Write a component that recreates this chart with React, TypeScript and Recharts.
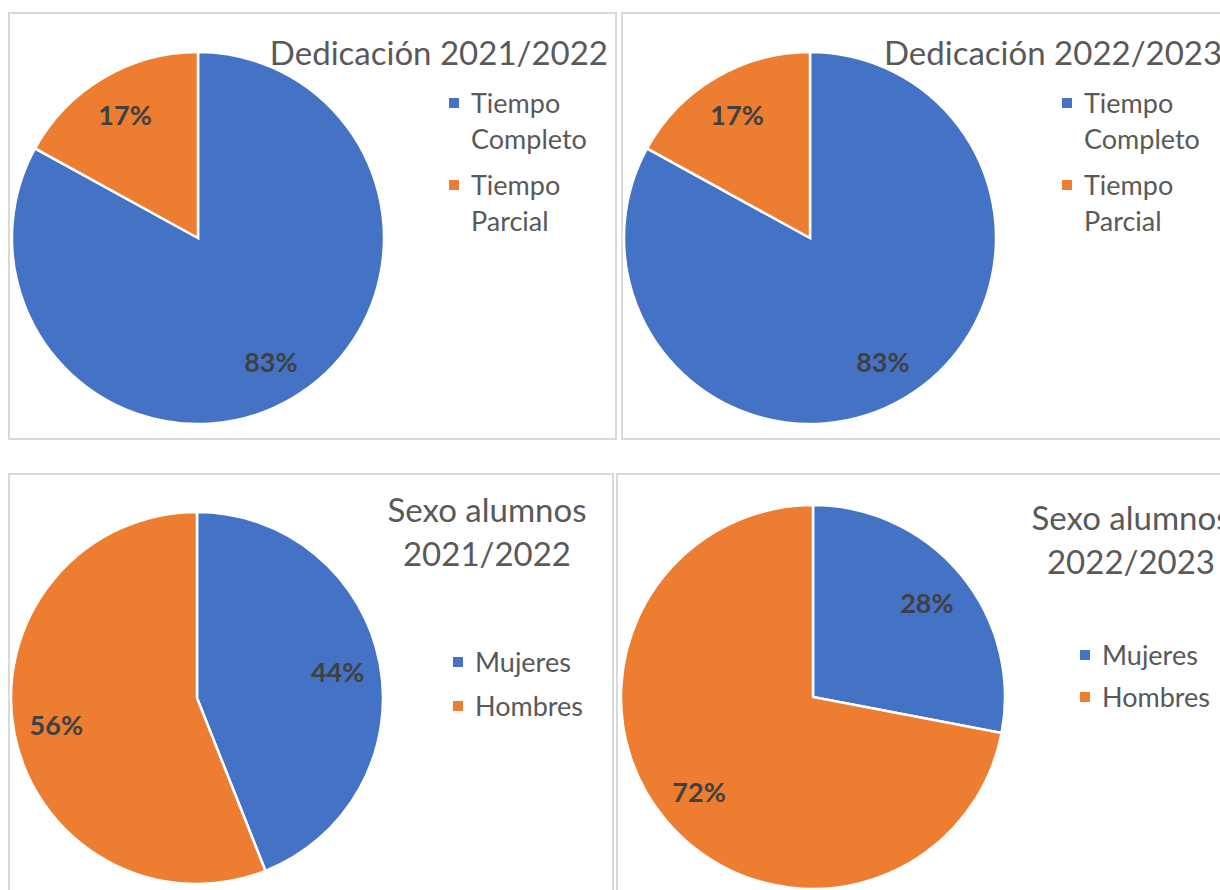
import { Cell, Legend, Pie, PieChart } from "recharts";

const dedicacionNames = ["Tiempo Completo", "Tiempo Parcial"];
const dedicacion2122 = [83, 17];
const dedicacion2223 = [83, 17];

const sexoNames = ["Mujeres", "Hombres"];
const sexo2122 = [44, 56];
const sexo2223 = [28, 72];

const COLORS = ["#4472C4", "#ED7D31"];
const FONT = "Lato, 'Noto Sans', sans-serif";
const RAD = Math.PI / 180;

const toRows = (names: string[], values: number[]) =>
  names.map((name, i) => ({ name, value: values[i] }));

const renderLabel = (props: any) => {
  const { cx, cy, midAngle, outerRadius, value } = props;
  const r = outerRadius * 0.77;
  const x = cx + r * Math.cos(-midAngle * RAD);
  const y = cy + r * Math.sin(-midAngle * RAD);
  return (
    <text
      x={x}
      y={y}
      fill="#404040"
      fontSize={27}
      fontWeight={700}
      fontFamily={FONT}
      textAnchor="middle"
      dominantBaseline="central"
    >
      {`${value}%`}
    </text>
  );
};

type PanelProps = {
  left: number;
  top: number;
  width: number;
  height: number;
  cx: number;
  cy: number;
  radius: number;
  names: string[];
  values: number[];
  legendLeft: number;
  legendTop: number;
  legendTextWidth: number;
  itemGap: number;
};

const PiePanel = (p: PanelProps) => {
  const rows = toRows(p.names, p.values);
  return (
    <div
      style={{
        position: "absolute",
        left: p.left,
        top: p.top,
        width: p.width,
        height: p.height,
        outline: "2px solid #d9d9d9",
        outlineOffset: -2,
        background: "#fff",
      }}
    >
      <PieChart
        width={p.width}
        height={p.height}
        margin={{ top: 0, right: 0, bottom: 0, left: 0 }}
      >
        <Pie
          data={rows}
          dataKey="value"
          nameKey="name"
          cx={p.cx}
          cy={p.cy}
          outerRadius={p.radius}
          startAngle={90}
          endAngle={-270}
          stroke="#ffffff"
          strokeWidth={2.5}
          label={renderLabel}
          labelLine={false}
          isAnimationActive={false}
        >
          {rows.map((r, i) => (
            <Cell key={r.name} fill={COLORS[i]} />
          ))}
        </Pie>
        <Legend
          layout="vertical"
          wrapperStyle={{
            position: "absolute",
            left: p.legendLeft,
            top: p.legendTop,
            width: "auto",
          }}
          content={() => (
            <div style={{ fontFamily: FONT }}>
              {rows.map((r, i) => (
                <div
                  key={r.name}
                  style={{
                    display: "flex",
                    alignItems: "flex-start",
                    marginBottom: p.itemGap,
                  }}
                >
                  <span
                    style={{
                      width: 10,
                      height: 10,
                      background: COLORS[i],
                      marginTop: 13,
                      marginRight: 12,
                      flex: "none",
                    }}
                  />
                  <span
                    style={{
                      width: p.legendTextWidth,
                      fontSize: 27,
                      lineHeight: "36px",
                      color: "#595959",
                    }}
                  >
                    {r.name}
                  </span>
                </div>
              ))}
            </div>
          )}
        />
      </PieChart>
    </div>
  );
};

const Title = ({
  lines,
  left,
  top,
  width,
  align,
}: {
  lines: string[];
  left: number;
  top: number;
  width: number;
  align: "left" | "right" | "center";
}) => (
  <div
    style={{
      position: "absolute",
      left,
      top,
      width,
      textAlign: align,
      fontFamily: FONT,
      fontSize: 33,
      lineHeight: "44px",
      color: "#595959",
      whiteSpace: "nowrap",
    }}
  >
    {lines.map((l) => (
      <div key={l}>{l}</div>
    ))}
  </div>
);

export default function App() {
  return (
    <div
      style={{
        position: "fixed",
        left: 0,
        top: 0,
        width: 1220,
        height: 890,
        overflow: "hidden",
        background: "#fff",
      }}
    >
      <PiePanel
        left={8}
        top={12}
        width={609}
        height={428}
        cx={190}
        cy={226}
        radius={186}
        names={dedicacionNames}
        values={dedicacion2122}
        legendLeft={441}
        legendTop={73}
        legendTextWidth={130}
        itemGap={10}
      />
      <PiePanel
        left={621}
        top={12}
        width={620}
        height={428}
        cx={189}
        cy={226}
        radius={186}
        names={dedicacionNames}
        values={dedicacion2223}
        legendLeft={441}
        legendTop={73}
        legendTextWidth={130}
        itemGap={10}
      />
      <PiePanel
        left={8}
        top={473}
        width={606}
        height={430}
        cx={189}
        cy={225}
        radius={186}
        names={sexoNames}
        values={sexo2122}
        legendLeft={445}
        legendTop={171}
        legendTextWidth={140}
        itemGap={8}
      />
      <PiePanel
        left={616}
        top={473}
        width={620}
        height={430}
        cx={197}
        cy={224}
        radius={192}
        names={sexoNames}
        values={sexo2223}
        legendLeft={464}
        legendTop={164}
        legendTextWidth={140}
        itemGap={6}
      />
      <Title lines={["Dedicación 2021/2022"]} left={200} top={30} width={408} align="right" />
      <Title lines={["Dedicación 2022/2023"]} left={884} top={30} width={400} align="left" />
      <Title lines={["Sexo alumnos", "2021/2022"]} left={386} top={487} width={202} align="center" />
      <Title lines={["Sexo alumnos", "2022/2023"]} left={999} top={495} width={264} align="center" />
    </div>
  );
}
